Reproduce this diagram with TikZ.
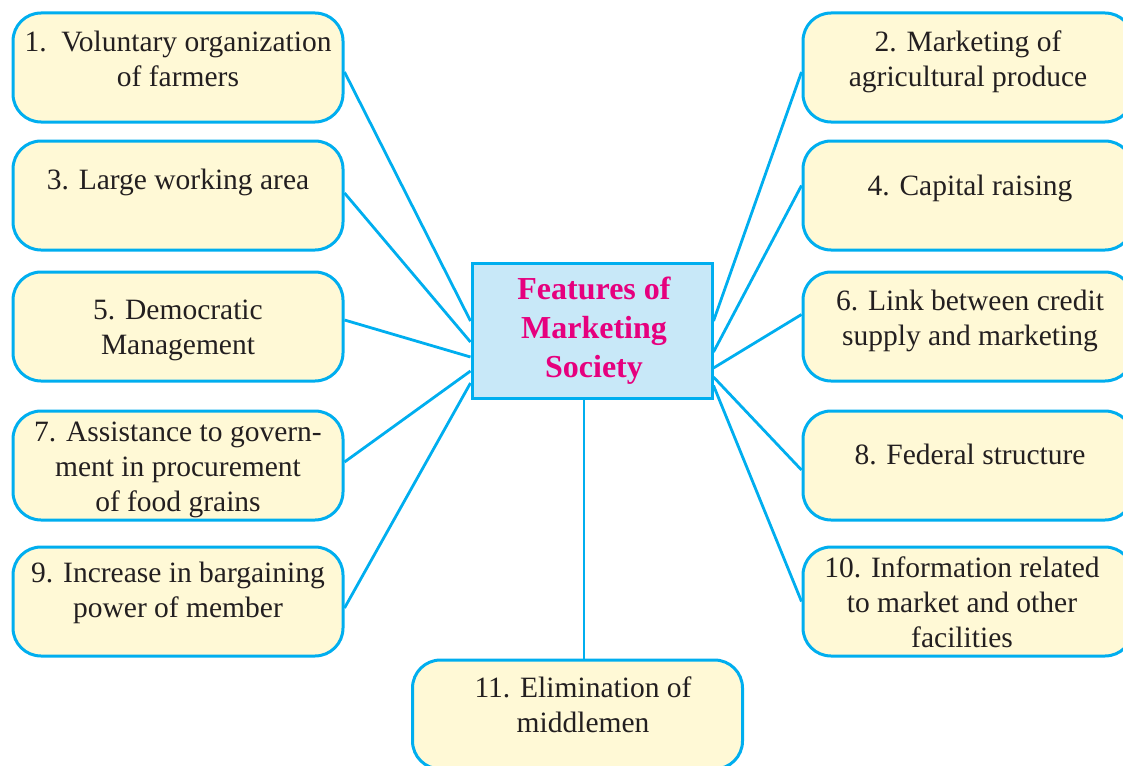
\documentclass[tikz,border=0pt]{standalone}
\usepackage{fontspec}
\setmainfont{Liberation Serif}
\definecolor{cyanline}{RGB}{0,174,239}
\definecolor{boxfill}{RGB}{255,249,214}
\definecolor{centerfill}{RGB}{200,232,248}
\definecolor{titlecol}{RGB}{230,0,126}
\definecolor{txt}{RGB}{35,31,32}
\tikzset{
  featbox/.style={draw=cyanline, line width=3pt, fill=boxfill, rounded corners=28pt,
    minimum width=330pt, minimum height=109pt, inner sep=0pt},
  centerbox/.style={draw=cyanline, line width=3pt, fill=centerfill,
    minimum width=240pt, minimum height=135pt, inner sep=0pt},
  feattext/.style={align=center, text=txt, font=\fontsize{29.5}{35}\selectfont, inner sep=0pt},
  titletext/.style={align=center, text=titlecol, font=\fontsize{32}{39}\selectfont\bfseries, inner sep=0pt},
  conn/.style={draw=cyanline, line width=2.8pt}
}
\begin{document}
\begin{tikzpicture}[x=1pt,y=-1pt]
\useasboundingbox (0,0) rectangle (1123,765);
\clip (0,0) rectangle (1123,765);
% boxes
\node[featbox] (b1) at (178,67.5) {};
\node[featbox] (b3) at (178,195.5) {};
\node[featbox] (b5) at (178,326.5) {};
\node[featbox] (b7) at (178,465.5) {};
\node[featbox] (b9) at (178,601.5) {};
\node[featbox] (b2) at (968,67.5) {};
\node[featbox] (b4) at (968,195.5) {};
\node[featbox] (b6) at (968,326.5) {};
\node[featbox] (b8) at (968,465.5) {};
\node[featbox] (b10) at (968,601.5) {};
\node[featbox] (b11) at (577.5,714.5) {};
\node[centerbox] (c) at (592,330.5) {};
% connectors
\draw[conn] ([yshift=-4.5pt]b1.east) -- ([yshift=9.5pt]c.west);
\draw[conn] ([yshift=2.5pt]b3.east) -- ([yshift=-11.5pt]c.west);
\draw[conn] ([yshift=6.5pt]b5.east) -- ([yshift=-26.5pt]c.west);
\draw[conn] ([yshift=3.5pt]b7.east) -- ([yshift=-40.5pt]c.west);
\draw[conn] ([yshift=-6.5pt]b9.east) -- ([yshift=-52.5pt]c.west);
\draw[conn] ([yshift=-4.5pt]b2.west) -- ([yshift=9.5pt]c.east);
\draw[conn] ([yshift=10pt]b4.west) -- ([yshift=-21.5pt]c.east);
\draw[conn] ([yshift=12pt]b6.west) -- ([yshift=-37.5pt]c.east);
\draw[conn] ([yshift=-4.5pt]b8.west) -- ([yshift=-46.5pt]c.east);
\draw[conn] (b10.west) -- ([yshift=-55pt]c.east);
\draw[conn] ([xshift=-8pt]c.south) -- ([xshift=-8pt]c.south |- b11.north);
% redraw center box on top of connector ends
\node[centerbox] (cc) at (c.center) {};
% texts
\node[titletext] (ct) at (594,330.5) {Features of\\Marketing\\Society};
\node[feattext] (t1) at (178,59) {1.\ \ Voluntary organization\\of farmers};
\node[feattext] (t3) at (178,182) {3. Large working area};
\node[feattext] (t5) at (178,330) {5. Democratic\\Management};
\node[feattext] (t7) at (178,470) {7. Assistance to govern-\\ment in procurement\\of food grains};
\node[feattext] (t9) at (178,593) {9. Increase in bargaining\\power of member};
\node[feattext] (t2) at (968,62) {2. Marketing of\\agricultural produce};
\node[feattext] (t4) at (970,188) {4. Capital raising};
\node[feattext] (t6) at (970,321) {6. Link between credit\\supply and marketing};
\node[feattext] (t8) at (970,454) {8. Federal structure};
\node[feattext] (t10) at (962,602) {10. Information related\\to market and other\\facilities};
\node[feattext] (t11) at (583,705) {11. Elimination of\\middlemen};
\end{tikzpicture}
\end{document}
